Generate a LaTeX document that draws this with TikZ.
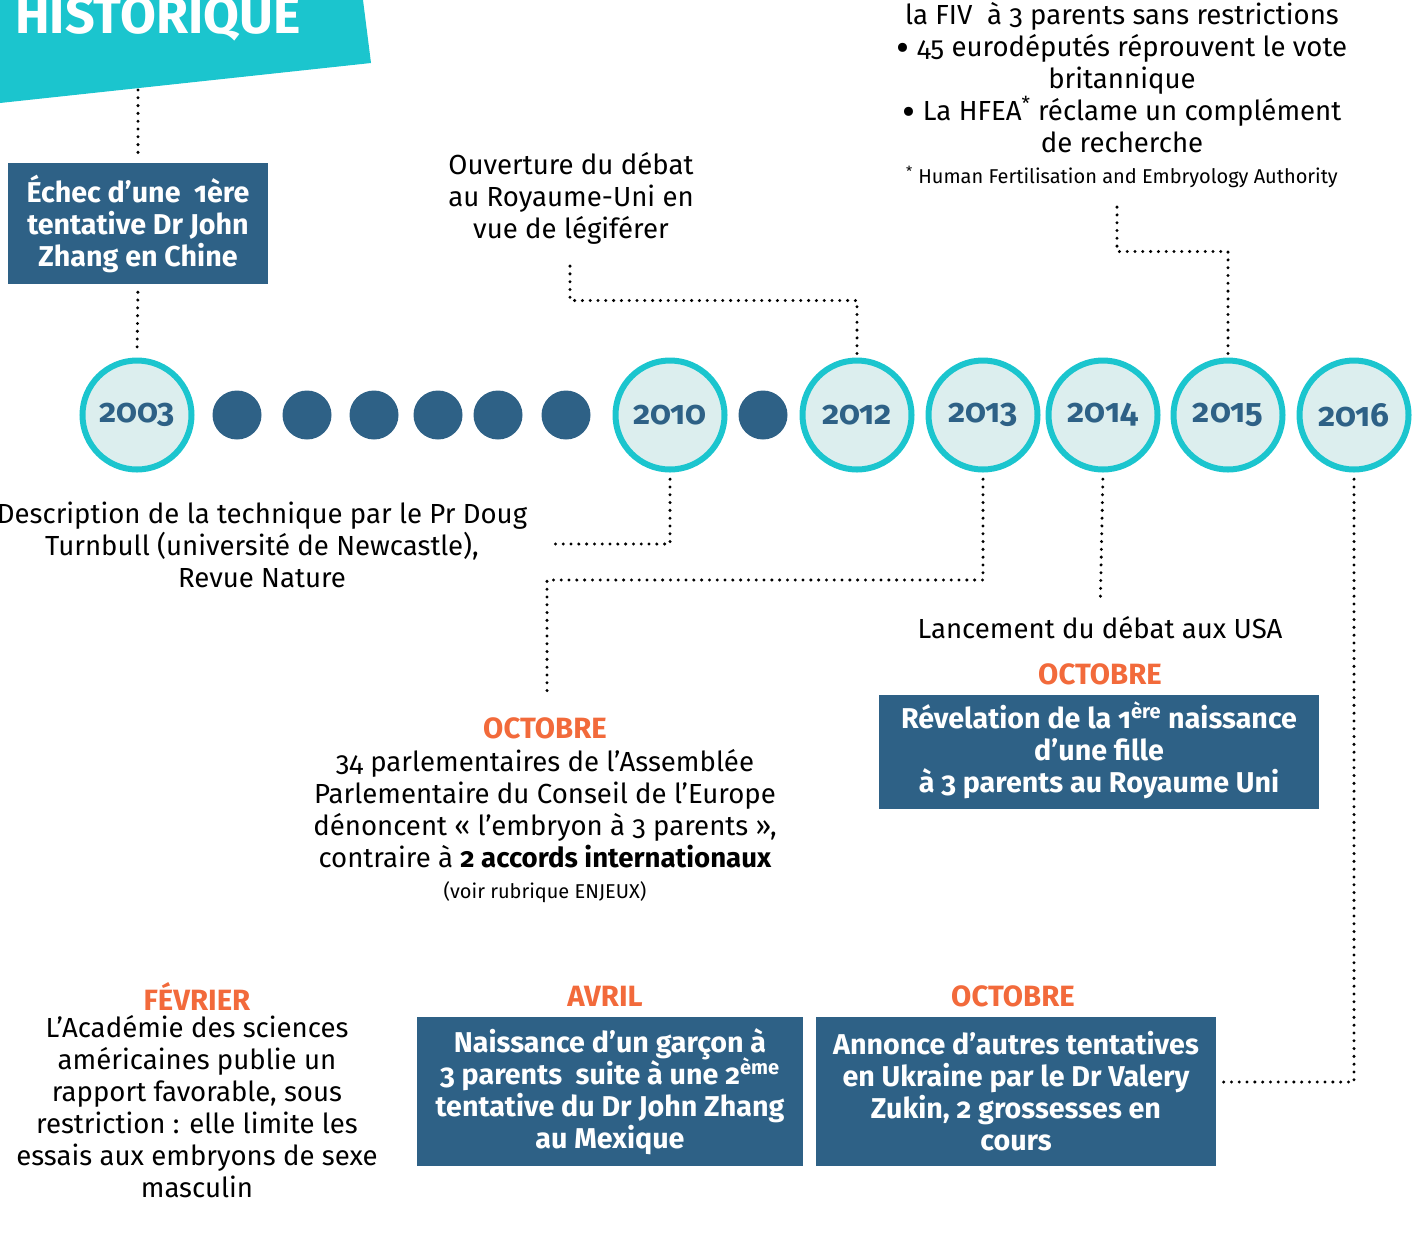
\documentclass[tikz,border=0pt]{standalone}
\usepackage{fontspec}
\setmainfont{Fira Sans}[Numbers=OldStyle]
\usetikzlibrary{calc}
\definecolor{hteal}{HTML}{1BC5CE}
\definecolor{hblue}{HTML}{2E6186}
\definecolor{hlight}{HTML}{DCEEEE}
\definecolor{horange}{HTML}{F26A3B}
\newcommand{\bigbul}{\raisebox{-3.5pt}{\fontsize{30}{24}\selectfont •}}
\newcommand{\supx}[1]{\smash{\textsuperscript{#1}}}
\tikzset{
  dots/.style={line width=2.5pt, dash pattern=on 0pt off 5.85pt, line cap=round, black},
  year/.style={circle, draw=hteal, line width=4.5pt, fill=hlight, minimum size=81.75pt, inner sep=0pt,
     text=hblue, font=\bfseries\fontsize{25}{25}\selectfont},
  dotc/.style={circle, fill=hblue, minimum size=36.75pt, inner sep=0pt},
  bluebox/.style={fill=hblue, text=white, align=center, inner sep=0pt,
     font=\bfseries\fontsize{21.5}{24}\selectfont},
  body/.style={align=center, inner sep=0pt, font=\fontsize{20.7}{24}\selectfont},
  small/.style={align=center, inner sep=0pt, font=\fontsize{15}{16}\selectfont},
  month/.style={inner sep=0pt, text=horange, font=\bfseries\fontsize{22}{24}\selectfont}
}
\begin{document}
\begin{tikzpicture}[x=0.75pt,y=-0.75pt]
\useasboundingbox (0,0) rectangle (1412,1239);
\clip (0,0) rectangle (1412,1239);
% header
\fill[hteal] (0,0) -- (363,0) -- (371,63) -- (0,103) -- cycle;
\node[anchor=base west, inner sep=0pt, text=white, font=\bfseries\fontsize{39}{40}\selectfont] (hdr) at (15,33) {HISTORIQUE};
\coordinate (hdrb) at (138,90);

% timeline
\node[year] (c2003) at (137,415) {2003};
\node[dotc] (d1) at (237,415) {};
\node[dotc] (d2) at (307,415) {};
\node[dotc] (d3) at (374,415) {};
\node[dotc] (d4) at (438,415) {};
\node[dotc] (d5) at (498,415) {};
\node[dotc] (d6) at (566,415) {};
\node[year] (c2010) at (670,415) {2010};
\node[dotc] (d7) at (763,415) {};
\node[year] (c2012) at (857,415) {2012};
\node[year] (c2013) at (983,415) {2013};
\node[year] (c2014) at (1103,415) {2014};
\node[year] (c2015) at (1228,415) {2015};
\node[year] (c2016) at (1354,415) {2016};

% 2003 box
\node[bluebox, minimum width=195pt, minimum height=90.75pt] (box1) at (138,223.5)
  {Échec d’une \ 1ère\\tentative Dr John\\Zhang en Chine};
\draw[dots, shorten >=7pt] (hdrb) -- (box1.north);
\draw[dots, shorten <=6pt, shorten >=3pt] (box1.south) -- (c2003.north);

% 2012
\node[body] (ouv) at (571,198) {Ouverture du débat\\au Royaume-Uni en\\vue de légiférer};
\coordinate (ouvend) at (570,262);
\draw[dots, shorten <=3pt] (c2012.north) -- ++(0,-57) -| (ouvend);

% 2015
\node[body] (note) at (1122,78) {la FIV \ à 3 parents sans restrictions\\
  \bigbul\ 45 eurodéputés réprouvent le vote\\britannique\\
  \bigbul\ La HFEA\supx{*} réclame un complément\\de recherche};
\node[small] (foot) at (1122,177) {\textsuperscript{*} Human Fertilisation and Embryology Authority};
\coordinate (footend) at (1117,205);
\draw[dots, shorten <=3pt] (c2015.north) -- ++(0,-106) -| (footend);

% 2010
\node[body] (desc) at (262,545) {Description de la technique par le Pr Doug\\Turnbull (université de Newcastle),\\Revue Nature};
\coordinate (descend) at (549,544);
\draw[dots, shorten <=5pt] (c2010.south) |- (descend);

% 2013
\coordinate (j13) at (547,580);
\coordinate (oct1top) at (547,697);
\draw[dots, shorten <=5pt] (c2013.south) |- (j13) -- (oct1top);
\node[month] (oct1) at (545,728) {OCTOBRE};
\node[body] (parl) at (545,809) {34 parlementaires de l’Assemblée\\Parlementaire du Conseil de l’Europe\\
  dénoncent « l’embryon à 3 parents »,\\contraire à \textbf{2 accords internationaux}};
\node[small] (voir) at (545,892) {(voir rubrique ENJEUX)};

% 2014
\node[body] (usa) at (1100,628) {Lancement du débat aux USA};
\draw[dots, shorten <=5pt, shorten >=12pt] (c2014.south) -- (usa.north);
\node[month] (oct2) at (1100,674) {OCTOBRE};
\node[bluebox, minimum width=330pt, minimum height=85.5pt] (box4) at (1099,752)
  {Révelation de la 1\supx{ère} naissance\\d’une fille\\à 3 parents au Royaume Uni};

% 2016
\node[month] (fev) at (197,996) {FÉVRIER};
\node[body] (fevt) at (197,1107) {L’Académie des sciences\\américaines publie un\\rapport favorable, sous\\
  restriction : elle limite les\\essais aux embryons de sexe\\masculin};
\node[month] (avr) at (605,996) {AVRIL};
\node[bluebox, minimum width=289.5pt, minimum height=111.75pt] (box5) at (610,1091.5)
  {Naissance d’un garçon à\\3 parents \ suite à une 2\supx{ème}\\tentative du Dr John Zhang\\au Mexique};
\node[month] (oct3) at (1013,996) {OCTOBRE};
\node[bluebox, minimum width=300pt, minimum height=111.75pt] (box6) at (1016,1091.5)
  {Annonce d’autres tentatives\\en Ukraine par le Dr Valery\\Zukin, 2 grossesses en\\cours};
\coordinate (b6end) at (1223,1082);
\draw[dots, shorten <=5pt] (c2016.south) |- (b6end);
\end{tikzpicture}
\end{document}
